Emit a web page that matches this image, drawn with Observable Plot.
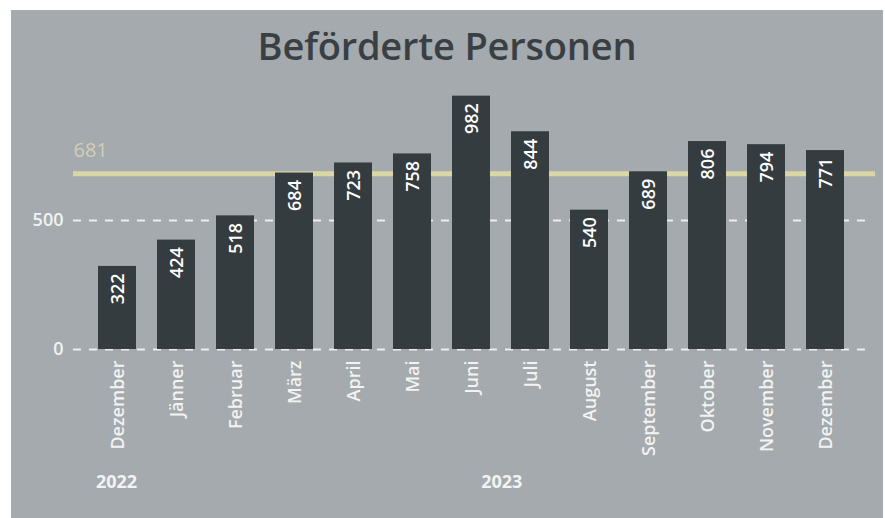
<!DOCTYPE html>
<html>
<head>
<meta charset="utf-8">
<script src="https://cdn.jsdelivr.net/npm/d3@7"></script>
<script src="https://cdn.jsdelivr.net/npm/@observablehq/plot@0.6"></script>
<style>
  html, body { margin: 0; padding: 0; background: #ffffff; }
  #panel {
    position: absolute; left: 11px; top: 10px; width: 872px; height: 508px;
    background: #a4aaad; overflow: hidden;
  }
  #title {
    height: 80px; line-height: 70px; text-align: center;
    font-family: "Open Sans", sans-serif; font-weight: 600; font-size: 38px;
    color: #393f43; letter-spacing: -0.2px;
  }
  #chart svg { display: block; }
</style>
</head>
<body>
<div id="panel">
  <div id="title">Beförderte Personen</div>
  <div id="chart"></div>
</div>
<script>
const keys   = ["2022-12","2023-01","2023-02","2023-03","2023-04","2023-05","2023-06","2023-07","2023-08","2023-09","2023-10","2023-11","2023-12"];
const months = ["Dezember","Jänner","Februar","März","April","Mai","Juni","Juli","August","September","Oktober","November","Dezember"];
const values = [322, 424, 518, 684, 723, 758, 982, 844, 540, 689, 806, 794, 771];
const average = 681;
const yTicks = [0, 500];
const yearKeys = ["2022-12", "2023-07"];
const yearNames = ["2022", "2023"];

const data = keys.map((k, i) => ({key: k, month: months[i], value: values[i]}));
const monthOf = new Map(keys.map((k, i) => [k, months[i]]));

const W = 872, H = 428, mL = 62, mR = 13;
const step = (W - mL - mR) / (keys.length - 0.36 + 2 * 0.39);
const yearStyle = {frameAnchor: "bottom", dy: 138, fill: "#f2f3f3", fontSize: 18, fontWeight: 700};

const chart = Plot.plot({
  width: W,
  height: H,
  marginLeft: mL,
  marginRight: mR,
  marginTop: 1,
  marginBottom: 169,
  style: {background: "transparent", fontFamily: "Open Sans, sans-serif", overflow: "visible"},
  x: {domain: keys, paddingInner: 0.36, paddingOuter: 0.39, axis: null},
  y: {domain: [0, 1000], axis: null},
  marks: [
    Plot.ruleY(yTicks, {stroke: "#f4f4f4", strokeWidth: 2, strokeDasharray: "8,8", strokeOpacity: 0.9}),
    Plot.ruleY([average], {stroke: "#dad7a6", strokeWidth: 5, insetRight: -5}),
    Plot.barY(data, {x: "key", y: "value", fill: "#353c3f", insetLeft: -1, insetRight: 1}),
    Plot.text([average], {y: d => d, text: d => String(d), frameAnchor: "left", textAnchor: "start", dy: -23, dx: 0, fill: "#d2cfb6", fontSize: 20}),
    Plot.text(yTicks, {y: d => d, text: d => String(d), frameAnchor: "left", textAnchor: "end", dx: -10, fill: "#f2f3f3", fontSize: 18, fontWeight: 600}),
    Plot.text(data, {x: "key", y: "value", text: d => String(d.value), rotate: -90, textAnchor: "end", dy: 7, fill: "#ffffff", fontSize: 18, fontWeight: 600}),
    Plot.axisX({tickSize: 0, tickPadding: 11, tickRotate: -90, tickFormat: k => monthOf.get(k), label: null, fill: "#f2f3f3", fontSize: 18, fontWeight: 600}),
    Plot.text([0], {x: () => yearKeys[0], text: () => yearNames[0], ...yearStyle, dx: -2}),
    Plot.text([0], {x: () => yearKeys[1], text: () => yearNames[1], ...yearStyle, dx: -step / 2})
  ]
});
document.getElementById("chart").appendChild(chart);
</script>
</body>
</html>
